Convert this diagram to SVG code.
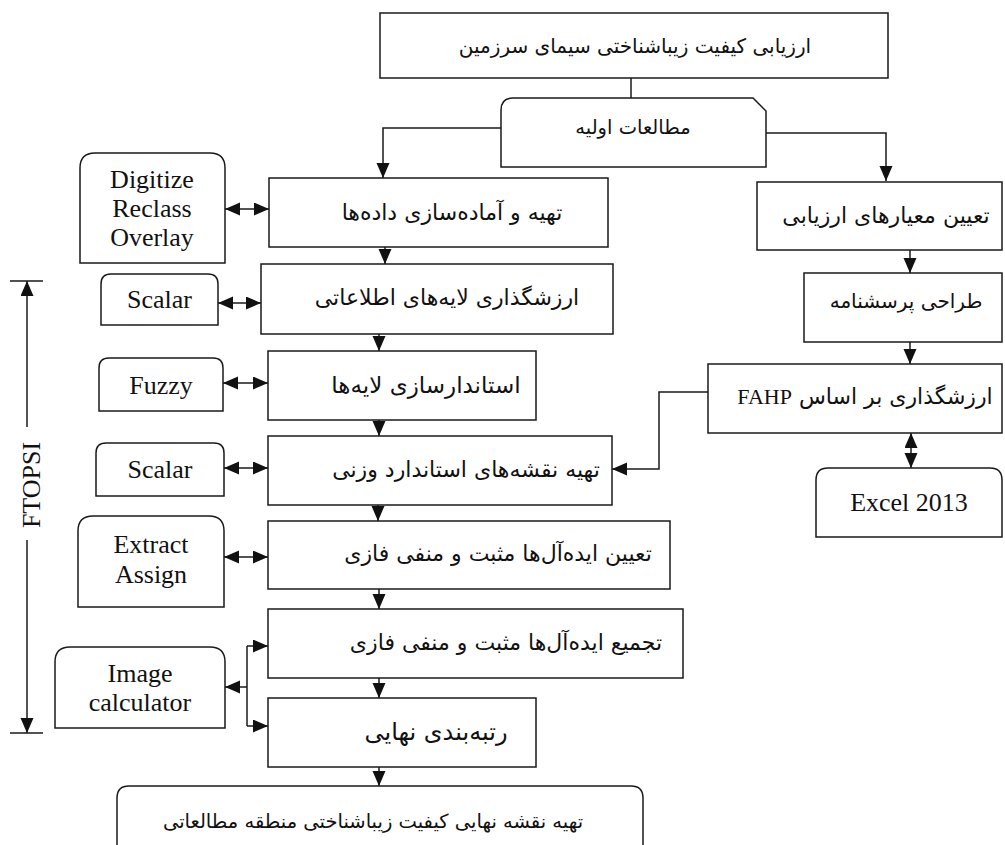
<svg xmlns="http://www.w3.org/2000/svg" width="1005" height="845" viewBox="0 0 1005 845">
<defs>
<marker id="ah" markerUnits="userSpaceOnUse" markerWidth="16" markerHeight="14" refX="15" refY="6.5" orient="auto-start-reverse" viewBox="0 0 16 14">
<path d="M0,0 L15,6.5 L0,13 Z" fill="#111"/>
</marker>
</defs>
<style>
.box{fill:#fff;stroke:#1a1a1a;stroke-width:1.5}
.ln{fill:none;stroke:#1a1a1a;stroke-width:1.5}
.arr{marker-end:url(#ah)}
.dbl{marker-start:url(#ah);marker-end:url(#ah)}
.fa{font-family:"DejaVu Sans",sans-serif;font-size:22px;direction:rtl;text-anchor:middle;fill:#111}
.en{font-family:"Liberation Serif",serif;font-size:26px;text-anchor:middle;fill:#111}
.lat{font-family:"Liberation Serif",serif;font-size:22px}
</style>
<rect width="1005" height="845" fill="#fff"/>

<g id="connectors">
<path class="ln" d="M631,78 V98"/>
<path class="ln arr" d="M501,128 H383 V178"/>
<path class="ln arr" d="M766,133 H886 V181"/>
<path class="ln arr" d="M385,247 V264"/>
<path class="ln arr" d="M379,334 V351"/>
<path class="ln arr" d="M379,420 V436"/>
<path class="ln arr" d="M378,505 V521"/>
<path class="ln arr" d="M379,589 V609"/>
<path class="ln arr" d="M379,678 V698"/>
<path class="ln arr" d="M379,767 V786"/>
<path class="ln arr" d="M910,250 V273"/>
<path class="ln arr" d="M910,342 V364"/>
<path class="ln dbl" d="M911,433 V468"/>
<path class="ln arr" d="M708,392 H659 V469 H612"/>
<path class="ln dbl" d="M225,209 H269"/>
<path class="ln dbl" d="M218,303 H261"/>
<path class="ln dbl" d="M223,383 H268"/>
<path class="ln dbl" d="M224,468 H268"/>
<path class="ln dbl" d="M224,557 H268"/>
<path class="ln arr" d="M247,687 H225"/>
<path class="ln" d="M247,646 V726"/>
<path class="ln arr" d="M247,646 H268"/>
<path class="ln arr" d="M247,726 H268"/>
<path class="ln arr" d="M27,427 V281"/>
<path class="ln arr" d="M27,540 V733"/>
<path class="ln" d="M10,281 H43 M10,733 H43"/>
</g>

<g id="ftopsi">
<text class="en" transform="translate(40,485) rotate(-90)">FTOPSI</text>
</g>

<g id="n-top">
<rect class="box" x="380" y="13" width="508" height="65"/>
<text class="fa" x="635" y="53" style="font-size:20px">ارزیابی کیفیت زیباشناختی سیمای سرزمین</text>
</g>
<g id="n-initial">
<path class="box" d="M501,167 V110 Q501,98 513,98 H753 L766,111 V167 Z"/>
<text class="fa" x="633" y="134" style="font-size:19.5px">مطالعات اولیه</text>
</g>
<g id="n-data">
<rect class="box" x="269" y="178" width="339" height="69"/>
<text class="fa" x="452" y="220">تهیه و آماده‌سازی داده‌ها</text>
</g>
<g id="n-layers">
<rect class="box" x="261" y="264" width="352" height="70"/>
<text class="fa" x="447" y="305">ارزشگذاری لایه‌های اطلاعاتی</text>
</g>
<g id="n-standard">
<rect class="box" x="268" y="351" width="268" height="69"/>
<text class="fa" x="426" y="393" style="font-size:23px">استاندارسازی لایه‌ها</text>
</g>
<g id="n-weighted">
<rect class="box" x="268" y="436" width="344" height="69"/>
<text class="fa" x="466" y="477">تهیه نقشه‌های استاندارد وزنی</text>
</g>
<g id="n-ideal">
<rect class="box" x="268" y="521" width="402" height="68"/>
<text class="fa" x="498" y="561">تعیین ایده‌آل‌ها مثبت و منفی فازی</text>
</g>
<g id="n-aggregate">
<rect class="box" x="268" y="609" width="415" height="69"/>
<text class="fa" x="506" y="650">تجمیع ایده‌آل‌ها مثبت و منفی فازی</text>
</g>
<g id="n-ranking">
<rect class="box" x="268" y="698" width="268" height="69"/>
<text class="fa" x="436" y="740" style="font-size:24px">رتبه‌بندی نهایی</text>
</g>
<g id="n-final">
<path class="box" d="M117,852 V798 Q117,786 129,786 H631 Q643,786 643,798 V852"/>
<text class="fa" x="373" y="828" style="font-size:19.5px">تهیه نقشه نهایی کیفیت زیباشناختی منطقه مطالعاتی</text>
</g>

<g id="n-criteria">
<rect class="box" x="757" y="182" width="245" height="68"/>
<text class="fa" x="886" y="223">تعیین معیارهای ارزیابی</text>
</g>
<g id="n-questionnaire">
<rect class="box" x="804" y="273" width="198" height="69"/>
<text class="fa" x="906" y="308" style="font-size:20px">طراحی پرسشنامه</text>
</g>
<g id="n-fahp">
<rect class="box" x="708" y="364" width="294" height="69"/>
<text class="fa" x="865" y="404">ارزشگذاری بر اساس <tspan class="lat">FAHP</tspan></text>
</g>
<g id="n-excel">
<path class="box" d="M816,537 V480 Q816,468 828,468 H990 Q1002,468 1002,480 V537 Z"/>
<text class="en" x="909" y="511">Excel 2013</text>
</g>

<g id="n-digitize">
<path class="box" d="M80,263 V168 Q80,153 95,153 H210 Q225,153 225,168 V263 Z"/>
<text class="en" x="152" y="188">Digitize</text>
<text class="en" x="152" y="217">Reclass</text>
<text class="en" x="152" y="246">Overlay</text>
</g>
<g id="n-scalar1">
<path class="box" d="M101,325 V284 Q101,274 111,274 H208 Q218,274 218,284 V325 Z"/>
<text class="en" x="159.5" y="308">Scalar</text>
</g>
<g id="n-fuzzy">
<path class="box" d="M99,411 V368 Q99,358 109,358 H213 Q223,358 223,368 V411 Z"/>
<text class="en" x="161" y="394">Fuzzy</text>
</g>
<g id="n-scalar2">
<path class="box" d="M96,496 V453 Q96,443 106,443 H214 Q224,443 224,453 V496 Z"/>
<text class="en" x="160" y="478">Scalar</text>
</g>
<g id="n-extract">
<path class="box" d="M78,607 V531 Q78,516 93,516 H209 Q224,516 224,531 V607 Z"/>
<text class="en" x="151" y="553">Extract</text>
<text class="en" x="151" y="583">Assign</text>
</g>
<g id="n-imagecalc">
<path class="box" d="M55,728 V662 Q55,647 70,647 H210 Q225,647 225,662 V728 Z"/>
<text class="en" x="140" y="682">Image</text>
<text class="en" x="140" y="711">calculator</text>
</g>
</svg>
